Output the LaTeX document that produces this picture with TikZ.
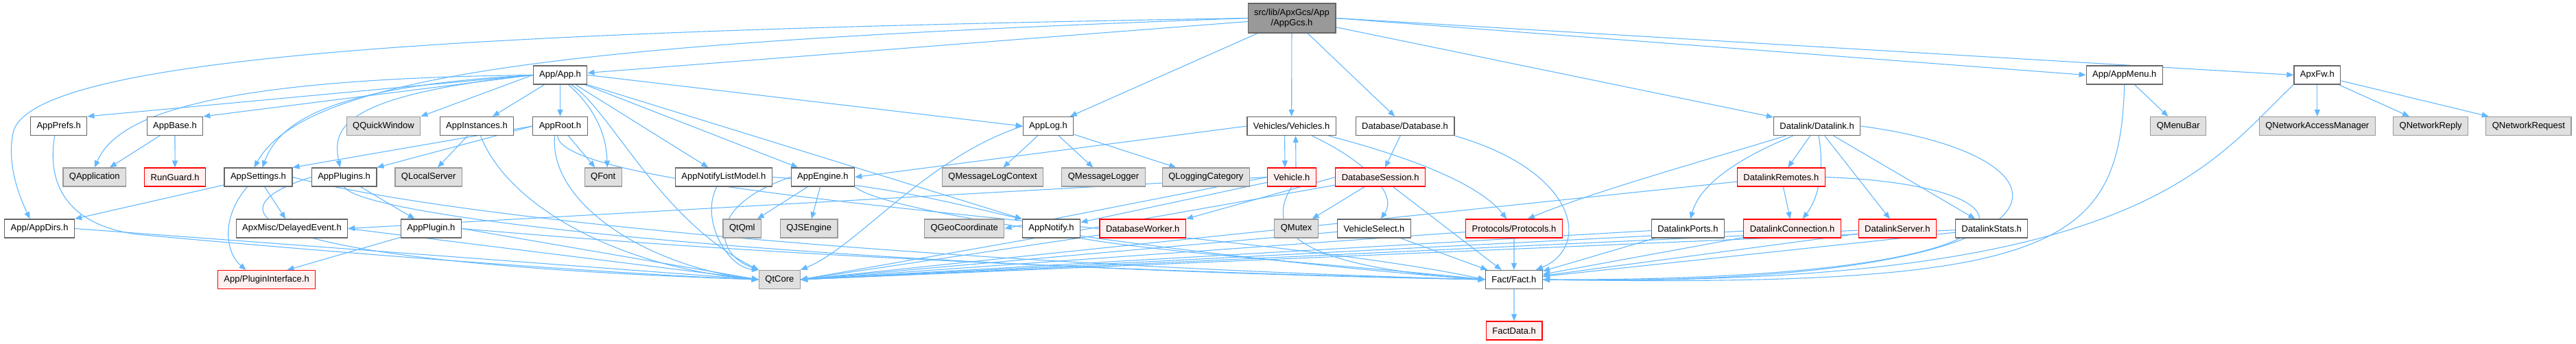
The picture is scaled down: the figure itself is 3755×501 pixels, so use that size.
\documentclass[tikz,border=0pt]{standalone}
\usepackage{fontspec}
\setmainfont{Liberation Sans}
\usetikzlibrary{arrows.meta,backgrounds}
\definecolor{edgeblue}{RGB}{99,184,255}
\definecolor{boxline}{RGB}{102,102,102}
\definecolor{sysline}{RGB}{153,153,153}
\definecolor{sysfill}{RGB}{224,224,224}
\definecolor{truncfill}{RGB}{255,240,240}
\definecolor{rootfill}{RGB}{153,153,153}
\begin{document}
\begin{tikzpicture}[x=1pt,y=-1pt,
  every node/.style={font=\fontsize{13}{15}\selectfont, inner xsep=9pt, inner ysep=0pt, minimum height=27pt, line width=1.2pt},
  hdr/.style={draw=boxline, fill=white},
  sys/.style={draw=sysline, fill=sysfill},
  trunc/.style={draw=red, fill=truncfill},
  rootbox/.style={draw=boxline, fill=rootfill, align=center, minimum height=43pt},
  dep/.style={draw=edgeblue, line width=1.1pt, -{Triangle[length=10pt,width=8pt]}}]
\useasboundingbox (0,0) rectangle (3755,501);

% row 0 and 1
\node[rootbox] (appgcs) at (1883,26.5) {src/lib/ApxGcs/App\\/AppGcs.h};
\node[hdr] (apph) at (816.5,109.5) {App/App.h};
\node[hdr] (appmenu) at (3096.7,109.5) {App/AppMenu.h};
\node[hdr] (apxfw) at (3377.8,109.5) {ApxFw.h};

% row 2
\node[hdr] (appprefs) at (85.7,184) {AppPrefs.h};
\node[hdr] (appbase) at (255,184) {AppBase.h};
\node[sys] (qquickwindow) at (559,184) {QQuickWindow};
\node[hdr] (appinstances) at (695,184) {AppInstances.h};
\node[hdr] (approot) at (816.5,184) {AppRoot.h};
\node[hdr] (applog) at (1528,184) {AppLog.h};
\node[hdr] (vehicles) at (1882.6,184) {Vehicles/Vehicles.h};
\node[hdr] (database) at (2048,184) {Database/Database.h};
\node[hdr] (datalink) at (2648.6,184) {Datalink/Datalink.h};
\node[sys] (qmenubar) at (3175.2,184) {QMenuBar};
\node[sys] (qnam) at (3377.8,184) {QNetworkAccessManager};
\node[sys] (qnreply) at (3543.2,184) {QNetworkReply};
\node[sys] (qnrequest) at (3685.9,184) {QNetworkRequest};

% row 3
\node[sys] (qapplication) at (137.8,258.5) {QApplication};
\node[trunc] (runguard) at (255.1,258.5) {RunGuard.h};
\node[hdr] (appsettings) at (376.5,258.5) {AppSettings.h};
\node[hdr] (appplugins) at (501.6,258.5) {AppPlugins.h};
\node[sys] (qlocalserver) at (624.7,258.5) {QLocalServer};
\node[sys] (qfont) at (879.2,258.5) {QFont};
\node[hdr] (appnotifylistmodel) at (1054.9,258.5) {AppNotifyListModel.h};
\node[hdr] (appengine) at (1199.4,258.5) {AppEngine.h};
\node[sys] (qmsglogctx) at (1447.1,258.5) {QMessageLogContext};
\node[sys] (qmsglogger) at (1608.5,258.5) {QMessageLogger};
\node[sys] (qlogcat) at (1757.8,258.5) {QLoggingCategory};
\node[trunc] (vehicle) at (1883,258.5) {Vehicle.h};
\node[trunc] (dbsession) at (2012.2,258.5) {DatabaseSession.h};
\node[trunc] (dlremotes) at (2596.3,258.5) {DatalinkRemotes.h};

% row 4
\node[hdr] (appdirs) at (57.6,333.5) {App/AppDirs.h};
\node[hdr] (delayedevent) at (425.5,333.5) {ApxMisc/DelayedEvent.h};
\node[hdr] (appplugin) at (628.4,333.5) {AppPlugin.h};
\node[sys] (qtqml) at (1081.8,333.5) {QtQml};
\node[sys] (qjsengine) at (1179.2,333.5) {QJSEngine};
\node[sys] (qgeocoord) at (1405.7,333.5) {QGeoCoordinate};
\node[hdr] (appnotify) at (1532.5,333.5) {AppNotify.h};
\node[trunc] (dbworker) at (1665.7,333.5) {DatabaseWorker.h};
\node[sys] (qmutex) at (1889.6,333.5) {QMutex};
\node[hdr] (vehicleselect) at (2003,333.5) {VehicleSelect.h};
\node[trunc] (protocols) at (2207,333.5) {Protocols/Protocols.h};
\node[hdr] (dlports) at (2460.4,333.5) {DatalinkPorts.h};
\node[trunc] (dlconnection) at (2612.6,333.5) {DatalinkConnection.h};
\node[trunc] (dlserver) at (2765.8,333.5) {DatalinkServer.h};
\node[hdr] (dlstats) at (2903.1,333.5) {DatalinkStats.h};

% row 5 and 6
\node[trunc] (plugininterface) at (388.6,408) {App/PluginInterface.h};
\node[sys] (qtcore) at (1136.4,408) {QtCore};
\node[hdr] (fact) at (2206.9,408) {Fact/Fact.h};
\node[trunc] (factdata) at (2207.1,482.5) {FactData.h};

\begin{pgfonlayer}{background}
% AppGcs.h
\draw[dep] (appgcs) -- (apph);
\draw[dep] (appgcs.west) .. controls (700,45) and (60,80) .. (20,190) .. controls (8,240) and (30,290) .. ([xshift=-14pt]appdirs.north);
\draw[dep] (appgcs.west) .. controls (900,60) and (450,100) .. ([xshift=-6pt]appsettings.north);
\draw[dep] (appgcs) -- (applog);
\draw[dep] (appgcs) -- (vehicles);
\draw[dep] (appgcs) -- (database);
\draw[dep] (appgcs) -- (datalink);
\draw[dep] (appgcs.east) -- (appmenu.west);
\draw[dep] (appgcs.east) -- (apxfw.west);

% App.h
\draw[dep] (apph.west) -- (appprefs.north east);
\draw[dep] (apph.west) -- (appbase.north east);
\draw[dep] (apph.west) .. controls (300,115) and (170,170) .. (qapplication.north);
\draw[dep] (apph.west) .. controls (500,125) and (410,170) .. ([xshift=6pt]appsettings.north);
\draw[dep] (apph.west) .. controls (490,140) and (485,190) .. ([xshift=-6pt]appplugins.north);
\draw[dep] (apph.west) -- (qquickwindow.north east);
\draw[dep] (apph) -- (appinstances);
\draw[dep] (apph) -- (approot);
\draw[dep] ([xshift=12pt]apph.south) .. controls (870,160) and (884,200) .. ([xshift=6pt]qfont.north);
\draw[dep] ([xshift=16pt]apph.south) .. controls (890,160) and (960,320) .. (qtcore.north west);
\draw[dep] (apph) -- (appnotifylistmodel);
\draw[dep] (apph) -- (appengine);
\draw[dep] (apph.south east) -- (appnotify.north west);
\draw[dep] (apph.east) -- (applog.west);

% AppPrefs, AppBase
\draw[dep] ([xshift=-6pt]appprefs.south) .. controls (66,280) and (110,330) .. (200,342) .. controls (500,370) and (900,400) .. (qtcore.west);
\draw[dep] (appbase) -- (qapplication);
\draw[dep] (appbase) -- (runguard);

% AppSettings
\draw[dep] (appsettings) -- (appdirs.north east);
\draw[dep] (appsettings) -- (delayedevent);
\draw[dep] ([xshift=-16pt]appsettings.south) .. controls (320,320) and (330,370) .. ([xshift=-30pt]plugininterface.north);
\draw[dep] (appsettings.east) .. controls (700,330) and (1500,390) .. (fact.west);

% AppPlugins, AppPlugin
\draw[dep] (appplugins) -- (appplugin);
\draw[dep] (appplugins.west) .. controls (320,300) and (300,380) .. (qtcore.west);
\draw[dep] (appplugins.south) .. controls (530,320) and (1200,390) .. (fact.west);
\draw[dep] (appplugin) -- ([xshift=30pt]plugininterface.north);
\draw[dep] (appplugin.east) -- (qtcore.west);
\draw[dep] (appplugin.east) .. controls (1200,380) and (1800,400) .. (fact.west);
\draw[dep] (delayedevent.east) -- (qtcore.west);
\draw[dep] (appdirs.east) -- (qtcore.west);

% AppInstances, AppRoot
\draw[dep] (appinstances) -- (qlocalserver);
\draw[dep] (appinstances) .. controls (740,300) and (900,390) .. (qtcore.west);
\draw[dep] (approot.west) -- (appsettings.north east);
\draw[dep] (approot.west) -- (appplugins.north east);
\draw[dep] (approot) -- (qfont);
\draw[dep] ([xshift=-8pt]approot.south) .. controls (800,300) and (950,390) .. (qtcore.west);
\draw[dep] ([xshift=-4pt]approot.south) .. controls (820,290) and (1800,330) .. (fact.west);

% AppNotifyListModel, AppEngine, AppLog
\draw[dep] ([xshift=-10pt]appnotifylistmodel.south) .. controls (1020,320) and (1060,390) .. (qtcore.north west);
\draw[dep] (appnotifylistmodel.east) .. controls (1300,270) and (1400,300) .. (appnotify.north west);
\draw[dep] (appengine) -- (qtqml);
\draw[dep] (appengine) -- (qjsengine);
\draw[dep] (appengine.west) .. controls (1030,300) and (1040,370) .. (qtcore.north west);
\draw[dep] (appengine.south east) .. controls (1300,320) and (1900,390) .. (fact.west);
\draw[dep] (applog) -- (qmsglogctx);
\draw[dep] (applog) -- (qmsglogger);
\draw[dep] (applog) -- (qlogcat);
\draw[dep] (applog.west) .. controls (1350,230) and (1250,360) .. (qtcore.north east);

% AppNotify, DatabaseWorker
\draw[dep] (appnotify.south east) .. controls (1700,370) and (2000,390) .. (fact.west);
\draw[dep] (dbworker) -- (qtcore.east);

% Vehicles, Vehicle
\draw[dep] ([xshift=-10pt]vehicles.south) -- ([xshift=-10pt]vehicle.north);
\draw[dep] ([xshift=6pt]vehicle.north) -- ([xshift=6pt]vehicles.south);
\draw[dep] (vehicles.west) -- (appengine.east);
\draw[dep] (vehicles) .. controls (1980,230) and (2040,280) .. (vehicleselect);
\draw[dep] (vehicles) .. controls (2020,220) and (2150,260) .. (protocols);
\draw[dep] (vehicle.west) -- (delayedevent.east);
\draw[dep] (vehicle.west) -- (qgeocoord.east);
\draw[dep] (vehicle) -- (appnotify);
\draw[dep] (vehicle.south) .. controls (1840,340) and (1900,390) .. (fact.west);

% Database, DatabaseSession
\draw[dep] (database) -- (dbsession);
\draw[dep] (database.south east) .. controls (2300,250) and (2320,360) .. ([xshift=-10pt]fact.north east);
\draw[dep] (dbsession) -- (qmutex);
\draw[dep] (dbsession.west) -- (dbworker.north east);
\draw[dep] (dbsession) -- (fact);
\draw[dep] (dbsession) -- (qtcore.east);

% VehicleSelect, Protocols, Datalink parts
\draw[dep] (vehicleselect) -- (fact);
\draw[dep] (vehicleselect) -- (qtcore.east);
\draw[dep] (protocols) -- (fact);
\draw[dep] (protocols) -- (qtcore.east);
\draw[dep] (dlports) -- (fact);
\draw[dep] (dlports) -- (qtcore.east);
\draw[dep] (dlremotes) -- (dlconnection);
\draw[dep] (dlremotes.east) .. controls (3000,270) and (3020,410) .. (fact.east);
\draw[dep] (dlremotes) -- (qtcore.east);
\draw[dep] (dlconnection) -- (fact);
\draw[dep] (dlconnection) -- (qtcore.east);
\draw[dep] (dlserver) -- (fact);
\draw[dep] (dlserver) -- (qtcore.east);
\draw[dep] (dlstats) -- (fact);
\draw[dep] (dlstats) -- (qtcore.east);

% Datalink
\draw[dep] (datalink) -- (dlremotes);
\draw[dep] (datalink) .. controls (2660,250) and (2650,290) .. ([xshift=15pt]dlconnection.north);
\draw[dep] (datalink) -- (dlserver);
\draw[dep] (datalink) -- (dlstats);
\draw[dep] (datalink) .. controls (2560,220) and (2480,260) .. (dlports);
\draw[dep] (datalink) .. controls (2500,230) and (2320,280) .. ([xshift=20pt]protocols.north);
\draw[dep] (datalink.east) .. controls (3060,230) and (3060,420) .. (fact.east);

% AppMenu, ApxFw, Fact
\draw[dep] (appmenu) -- (qmenubar);
\draw[dep] (appmenu.south) .. controls (3090,360) and (3000,420) .. (fact.east);
\draw[dep] (apxfw) -- (qnam);
\draw[dep] (apxfw) -- (qnreply);
\draw[dep] (apxfw) -- (qnrequest);
\draw[dep] (apxfw.south west) .. controls (3220,240) and (3120,420) .. (fact.east);
\draw[dep] (fact) -- (factdata);
\end{pgfonlayer}
\end{tikzpicture}
\end{document}
